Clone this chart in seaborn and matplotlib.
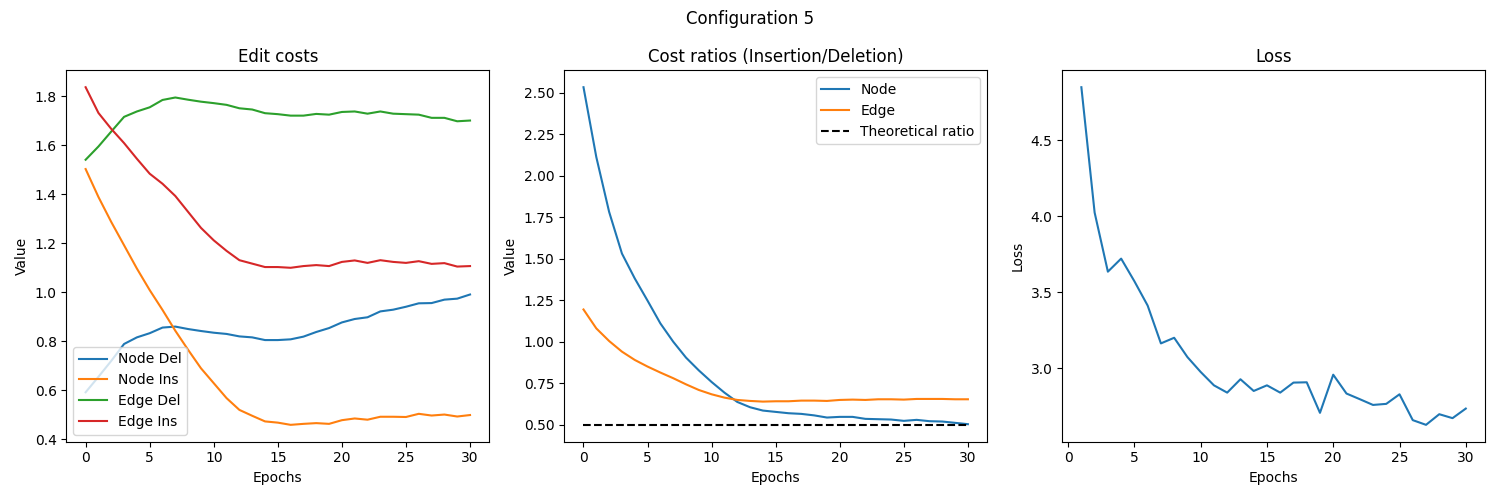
import numpy as np
import pandas as pd
import matplotlib
matplotlib.use("Agg")
import matplotlib.pyplot as plt
import seaborn as sns

# Epoch axis
epochs = list(range(0, 31))
loss_epochs = list(range(1, 31))

# Edit costs
node_del = [0.592, 0.655, 0.72, 0.789, 0.816, 0.833, 0.856, 0.860, 0.850, 0.842,
            0.835, 0.830, 0.820, 0.816, 0.805, 0.805, 0.808, 0.819, 0.838, 0.854,
            0.877, 0.891, 0.898, 0.922, 0.929, 0.941, 0.955, 0.956, 0.970, 0.974, 0.991]
node_ins = [1.503, 1.389, 1.287, 1.192, 1.097, 1.009, 0.928, 0.843, 0.765, 0.690,
            0.629, 0.568, 0.520, 0.496, 0.473, 0.468, 0.459, 0.463, 0.466, 0.463,
            0.478, 0.485, 0.480, 0.492, 0.492, 0.491, 0.504, 0.497, 0.501, 0.493, 0.499]
edge_del = [1.541, 1.595, 1.656, 1.716, 1.738, 1.755, 1.785, 1.795, 1.786, 1.778,
            1.772, 1.765, 1.751, 1.746, 1.731, 1.727, 1.721, 1.721, 1.728, 1.725,
            1.736, 1.738, 1.729, 1.738, 1.729, 1.727, 1.725, 1.712, 1.712, 1.698, 1.701]
edge_ins = [1.837, 1.732, 1.667, 1.609, 1.545, 1.484, 1.443, 1.393, 1.328, 1.263,
            1.212, 1.169, 1.131, 1.117, 1.103, 1.103, 1.100, 1.107, 1.111, 1.107,
            1.124, 1.130, 1.120, 1.131, 1.124, 1.120, 1.127, 1.116, 1.119, 1.105, 1.107]

# Cost ratios
node_ratio = [2.534, 2.113, 1.783, 1.532, 1.382, 1.248, 1.111, 1.001, 0.905, 0.828,
              0.758, 0.694, 0.638, 0.606, 0.586, 0.578, 0.570, 0.566, 0.557, 0.544,
              0.548, 0.548, 0.536, 0.534, 0.532, 0.524, 0.530, 0.522, 0.520, 0.512, 0.504]
edge_ratio = [1.195, 1.081, 1.005, 0.941, 0.891, 0.851, 0.815, 0.781, 0.744, 0.710,
              0.684, 0.664, 0.650, 0.644, 0.640, 0.642, 0.642, 0.646, 0.646, 0.644,
              0.650, 0.652, 0.650, 0.654, 0.654, 0.652, 0.656, 0.656, 0.656, 0.654, 0.654]
theoretical_ratio = 0.5

# Loss
loss = [4.850, 4.025, 3.636, 3.722, 3.573, 3.413, 3.164, 3.201, 3.074, 2.976,
        2.888, 2.840, 2.928, 2.851, 2.888, 2.840, 2.906, 2.908, 2.707, 2.958,
        2.834, 2.797, 2.759, 2.766, 2.829, 2.659, 2.628, 2.698, 2.672, 2.735]

costs = pd.DataFrame({
    "epoch": epochs * 4,
    "value": node_del + node_ins + edge_del + edge_ins,
    "series": (["Node Del"] * 31 + ["Node Ins"] * 31 +
               ["Edge Del"] * 31 + ["Edge Ins"] * 31),
})
ratios = pd.DataFrame({
    "epoch": epochs * 2,
    "value": node_ratio + edge_ratio,
    "series": ["Node"] * 31 + ["Edge"] * 31,
})
loss_df = pd.DataFrame({"epoch": loss_epochs, "loss": loss})

fig, axes = plt.subplots(1, 3, figsize=(15, 5))

# 1. Edit costs
ax = axes[0]
sns.lineplot(data=costs, x="epoch", y="value", hue="series", ax=ax,
             palette=["#1f77b4", "#ff7f0e", "#2ca02c", "#d62728"])
ax.set_title("Edit costs")
ax.set_xlabel("Epochs")
ax.set_ylabel("Value")
ax.legend(loc="lower left")

# 2. Cost ratios
ax = axes[1]
sns.lineplot(data=ratios, x="epoch", y="value", hue="series", ax=ax,
             palette=["#1f77b4", "#ff7f0e"])
sns.lineplot(x=[epochs[0], epochs[-1]], y=[theoretical_ratio, theoretical_ratio],
             color="black", linestyle="--", label="Theoretical ratio", ax=ax)
ax.set_title("Cost ratios (Insertion/Deletion)")
ax.set_xlabel("Epochs")
ax.set_ylabel("Value")
ax.legend(loc="upper right")

# 3. Loss
ax = axes[2]
sns.lineplot(data=loss_df, x="epoch", y="loss", ax=ax, color="#1f77b4")
ax.set_title("Loss")
ax.set_xlabel("Epochs")
ax.set_ylabel("Loss")

fig.suptitle("Configuration 5")
plt.tight_layout()
plt.savefig("out.png", dpi=100)
plt.close()
